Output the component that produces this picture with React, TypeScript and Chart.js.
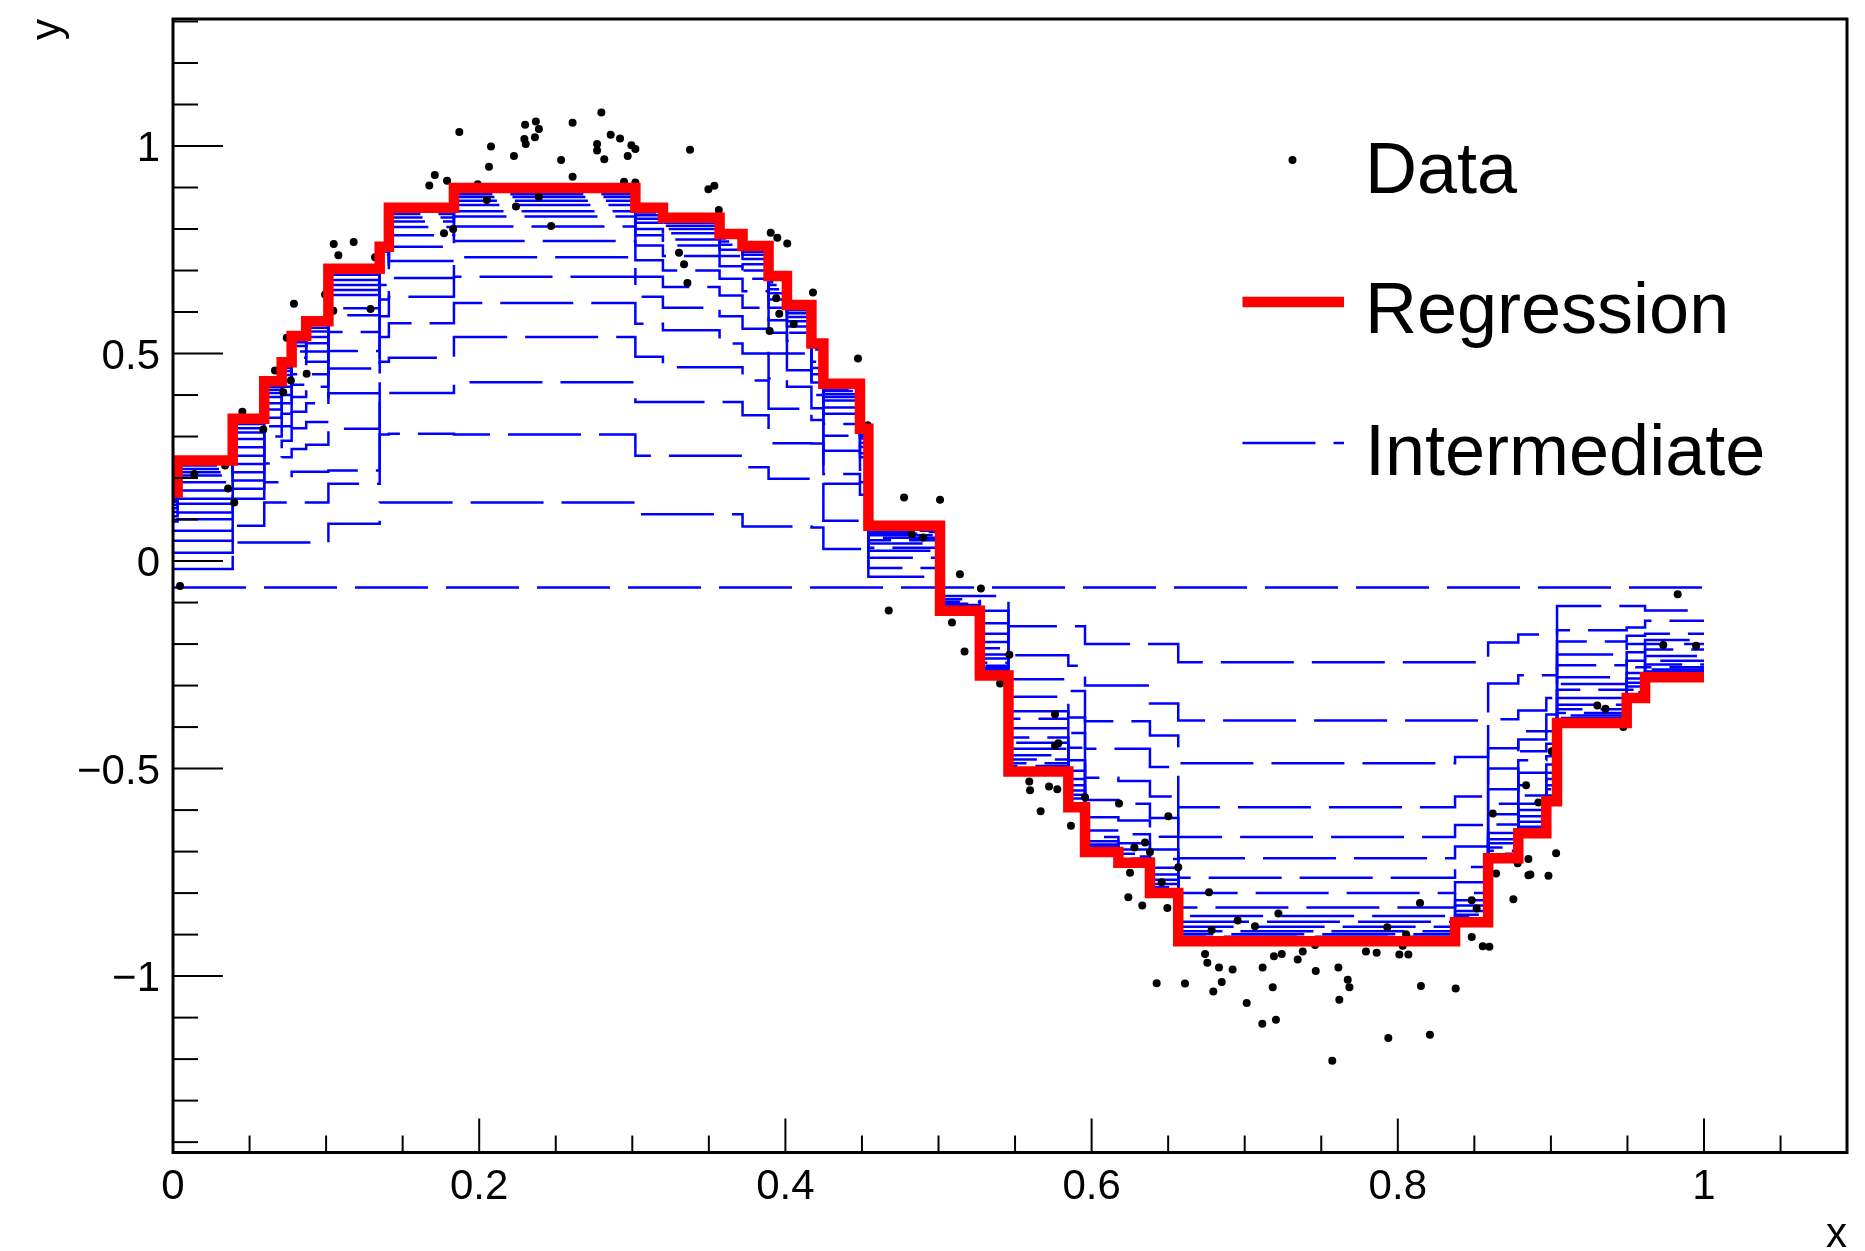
import React, { useEffect, useRef } from 'react';
import { Chart, registerables } from 'chart.js';

Chart.register(...registerables);

// ---------------- data ----------------
const dataX = [
  0.0046, 0.0139, 0.034, 0.036, 0.040, 0.0453, 0.059, 0.0666, 0.072, 0.077,
  0.0743, 0.079, 0.0873, 0.0993, 0.105, 0.108, 0.118, 0.1047, 0.129, 0.132,
  0.1674, 0.171, 0.179, 0.187, 0.2077, 0.2064, 0.199, 0.205, 0.177, 0.183,
  0.2227, 0.23, 0.237, 0.239, 0.2295, 0.2304, 0.2364, 0.224, 0.239, 0.247,
  0.2535, 0.261, 0.261, 0.2798, 0.277, 0.277, 0.2817, 0.2859, 0.292, 0.297,
  0.2994, 0.302, 0.2946, 0.302, 0.3377, 0.3497, 0.3536, 0.3565, 0.3305, 0.3338,
  0.336, 0.3904, 0.3947, 0.4012, 0.418, 0.394, 0.396, 0.4054, 0.3897,
  0.4474, 0.4537, 0.4775, 0.501, 0.514, 0.5277, 0.4675, 0.5088, 0.4825, 0.49, 0.517,
  0.5463, 0.5402, 0.5761, 0.5761, 0.5783, 0.5593, 0.5598, 0.5722, 0.5776, 0.5667,
  0.5865, 0.5957, 0.6179, 0.6501, 0.6279, 0.6349, 0.6381, 0.6251, 0.6458, 0.6566,
  0.624, 0.6331, 0.6495, 0.6767, 0.6425, 0.661, 0.6741, 0.6756, 0.6832, 0.6921,
  0.6795, 0.685, 0.6954, 0.6784, 0.7013, 0.7115, 0.7204, 0.7117, 0.7183, 0.7191,
  0.7242, 0.722, 0.7067, 0.7346,
  0.7379, 0.7459, 0.7464, 0.7612, 0.7673, 0.7684, 0.7618, 0.7572, 0.7792, 0.7862,
  0.7931, 0.801, 0.8069, 0.8032, 0.8054, 0.7938, 0.821, 0.8151, 0.8378, 0.8145,
  0.8483, 0.8555, 0.8598, 0.8483, 0.8515, 0.8755, 0.8642, 0.8853, 0.8853, 0.8783,
  0.862, 0.8838,
  0.9828, 0.9734, 0.9948, 0.9303, 0.9356, 0.9473, 0.9005, 0.8918, 0.9034, 0.8866, 0.8984,
];
const dataY = [
  -0.06, 0.21, 0.23, 0.175, 0.141, 0.36, 0.317, 0.459, 0.407, 0.435,
  0.538, 0.62, 0.451, 0.642, 0.764, 0.737, 0.769, 0.603, 0.607, 0.732,
  0.905, 0.93, 0.916, 1.034, 0.999, 0.95, 0.908, 0.87, 0.79, 0.80,
  0.976, 1.051, 1.059, 1.041, 1.017, 1.005, 1.021, 0.854, 0.877, 0.807,
  0.966, 1.056, 0.926, 1.081, 1.005, 0.989, 0.968, 1.027, 1.018, 0.976,
  1.002, 0.993, 0.914, 0.912, 0.991, 0.896, 0.904, 0.846, 0.743, 0.715,
  0.67, 0.791, 0.779, 0.765, 0.647, 0.633, 0.596, 0.571, 0.554,
  0.488, 0.327, 0.153, 0.148, -0.032, -0.066, -0.119, -0.148, 0.065, 0.057, -0.218,
  -0.226, -0.295, -0.369, -0.445, -0.439, -0.531, -0.552, -0.543, -0.55, -0.603,
  -0.638, -0.569, -0.584, -0.615, -0.69, -0.678, -0.701, -0.751, -0.774, -0.738,
  -0.81, -0.83, -0.836, -0.798, -1.017, -1.018, -0.947, -0.968, -0.979, -0.984,
  -1.037, -1.014, -0.866, -0.889, -1.065, -1.115, -1.105, -0.979, -1.027, -0.952,
  -0.947, -0.849, -0.88, -0.96,
  -0.941, -0.925, -0.988, -0.979, -1.009, -1.027, -1.057, -1.204, -0.941, -0.944,
  -0.882, -0.948, -0.948, -0.927, -0.899, -1.149, -1.141, -1.024, -1.03, -0.824,
  -0.906, -0.928, -0.929, -0.817, -0.837, -0.815, -0.753, -0.757, -0.718, -0.728,
  -0.608, -0.54,
  -0.08, -0.202, -0.204, -0.348, -0.356, -0.4, -0.458, -0.582, -0.704, -0.755, -0.758,
];

// step boundaries (start of each step) and end of the last step
const segmentStarts = [
  0, 0.003, 0.039, 0.0596, 0.071, 0.0775,
  0.087, 0.1015, 0.135, 0.141, 0.1835, 0.302,
  0.320, 0.357, 0.372, 0.389, 0.401, 0.417,
  0.4248, 0.4487, 0.4542, 0.501, 0.527, 0.5457,
  0.5848, 0.5957, 0.6175, 0.6381, 0.6566, 0.8374,
  0.859, 0.8787, 0.897, 0.904, 0.9495, 0.9615,
];
const segmentEnd = 1.0;

const regressionLevels = [
  0.165, 0.242, 0.343, 0.433, 0.479, 0.542,
  0.578, 0.704, 0.757, 0.851, 0.899, 0.851,
  0.827, 0.788, 0.759, 0.687, 0.617, 0.524,
  0.427, 0.319, 0.085, -0.12, -0.276, -0.507,
  -0.593, -0.701, -0.727, -0.80, -0.916, -0.87,
  -0.716, -0.656, -0.579, -0.39, -0.33, -0.28,
];

const stage00 = [
  -0.064, -0.064, -0.064, -0.064, -0.064, -0.064,
  -0.064, -0.064, -0.064, -0.064, -0.064, -0.064,
  -0.064, -0.064, -0.064, -0.064, -0.064, -0.064,
  -0.064, -0.064, -0.064, -0.064, -0.064, -0.064,
  -0.064, -0.064, -0.064, -0.064, -0.064, -0.064,
  -0.064, -0.064, -0.064, -0.064, -0.064, -0.064,
];
const stage01 = [
  -0.019, -0.019, 0.045, 0.045, 0.045, 0.045,
  0.045, 0.09, 0.141, 0.141, 0.141, 0.113,
  0.113, 0.113, 0.083, 0.083, 0.083, 0.081,
  0.029, 0.029, -0.038, -0.084, -0.084, -0.157,
  -0.157, -0.2, -0.2, -0.2, -0.244, -0.244,
  -0.196, -0.177, -0.177, -0.108, -0.108, -0.119,
];
const stage02 = [
  0.02, 0.02, 0.085, 0.141, 0.141, 0.141,
  0.141, 0.186, 0.305, 0.307, 0.305, 0.254,
  0.254, 0.254, 0.226, 0.198, 0.198, 0.198,
  0.097, 0.09, -0.017, -0.092, -0.12, -0.227,
  -0.252, -0.3, -0.3, -0.343, -0.384, -0.384,
  -0.295, -0.275, -0.275, -0.167, -0.16, -0.144,
];
const stage03 = [
  0.049, 0.049, 0.15, 0.19, 0.2, 0.215,
  0.215, 0.218, 0.4, 0.405, 0.431, 0.383,
  0.383, 0.383, 0.351, 0.284, 0.284, 0.283,
  0.186, 0.16, 0.008, -0.098, -0.15, -0.285,
  -0.313, -0.386, -0.386, -0.42, -0.487, -0.472,
  -0.381, -0.36, -0.33, -0.194, -0.18, -0.175,
];
const stage04 = [
  0.073, 0.073, 0.174, 0.235, 0.25, 0.27,
  0.28, 0.319, 0.48, 0.49, 0.54, 0.492,
  0.467, 0.467, 0.435, 0.367, 0.367, 0.34,
  0.21, 0.19, 0.025, -0.103, -0.175, -0.327,
  -0.377, -0.452, -0.452, -0.496, -0.593, -0.567,
  -0.451, -0.41, -0.37, -0.225, -0.2, -0.19,
];
const stage05 = [
  0.095, 0.101, 0.194, 0.27, 0.29, 0.32,
  0.335, 0.404, 0.54, 0.573, 0.622, 0.572,
  0.556, 0.524, 0.5, 0.44, 0.42, 0.368,
  0.266, 0.22, 0.032, -0.106, -0.195, -0.362,
  -0.414, -0.522, -0.53, -0.567, -0.665, -0.636,
  -0.5, -0.43, -0.41, -0.251, -0.22, -0.2,
];
const stage06 = [
  0.108, 0.117, 0.214, 0.3, 0.325, 0.36,
  0.38, 0.464, 0.59, 0.637, 0.685, 0.637,
  0.61, 0.59, 0.56, 0.5, 0.46, 0.4,
  0.302, 0.25, 0.042, -0.109, -0.21, -0.38,
  -0.45, -0.576, -0.585, -0.619, -0.716, -0.688,
  -0.55, -0.458, -0.44, -0.28, -0.24, -0.213,
];
const stage07 = [
  0.118, 0.138, 0.234, 0.325, 0.355, 0.395,
  0.42, 0.506, 0.63, 0.682, 0.732, 0.685,
  0.66, 0.64, 0.61, 0.55, 0.5, 0.43,
  0.33, 0.26, 0.05, -0.111, -0.225, -0.403,
  -0.48, -0.617, -0.625, -0.664, -0.763, -0.737,
  -0.585, -0.48, -0.47, -0.296, -0.256, -0.229,
];
const stage08 = [
  0.127, 0.15, 0.254, 0.345, 0.38, 0.425,
  0.45, 0.552, 0.665, 0.723, 0.771, 0.725,
  0.7, 0.68, 0.65, 0.58, 0.53, 0.45,
  0.355, 0.275, 0.056, -0.113, -0.235, -0.425,
  -0.505, -0.649, -0.658, -0.695, -0.8, -0.774,
  -0.61, -0.51, -0.49, -0.31, -0.27, -0.24,
];
const stage09 = [
  0.135, 0.17, 0.274, 0.365, 0.4, 0.45,
  0.48, 0.592, 0.69, 0.757, 0.806, 0.76,
  0.735, 0.71, 0.68, 0.61, 0.55, 0.465,
  0.37, 0.285, 0.062, -0.114, -0.245, -0.438,
  -0.525, -0.665, -0.68, -0.718, -0.835, -0.8,
  -0.635, -0.54, -0.51, -0.33, -0.283, -0.249,
];
const stage10 = [
  0.142, 0.19, 0.294, 0.38, 0.42, 0.47,
  0.505, 0.609, 0.71, 0.785, 0.83, 0.785,
  0.76, 0.735, 0.7, 0.63, 0.565, 0.48,
  0.387, 0.295, 0.066, -0.115, -0.252, -0.452,
  -0.54, -0.675, -0.695, -0.739, -0.855, -0.817,
  -0.655, -0.565, -0.525, -0.346, -0.293, -0.256,
];
const stage11 = [
  0.148, 0.206, 0.31, 0.395, 0.435, 0.49,
  0.525, 0.641, 0.72, 0.805, 0.843, 0.8,
  0.775, 0.75, 0.715, 0.645, 0.578, 0.49,
  0.395, 0.3, 0.07, -0.116, -0.258, -0.468,
  -0.553, -0.683, -0.705, -0.755, -0.869, -0.83,
  -0.67, -0.585, -0.54, -0.357, -0.302, -0.261,
];
const stage12 = [
  0.153, 0.214, 0.32, 0.405, 0.448, 0.505,
  0.54, 0.653, 0.73, 0.818, 0.858, 0.815,
  0.79, 0.762, 0.728, 0.655, 0.588, 0.5,
  0.402, 0.305, 0.073, -0.117, -0.263, -0.478,
  -0.563, -0.688, -0.712, -0.768, -0.881, -0.843,
  -0.68, -0.6, -0.55, -0.366, -0.31, -0.266,
];
const stage13 = [
  0.157, 0.222, 0.33, 0.413, 0.458, 0.518,
  0.553, 0.665, 0.738, 0.828, 0.868, 0.825,
  0.8, 0.77, 0.738, 0.665, 0.597, 0.505,
  0.41, 0.308, 0.076, -0.118, -0.267, -0.487,
  -0.572, -0.692, -0.717, -0.778, -0.892, -0.852,
  -0.69, -0.615, -0.558, -0.372, -0.316, -0.27,
];
const stage14 = [
  0.16, 0.23, 0.335, 0.42, 0.466, 0.527,
  0.562, 0.677, 0.745, 0.836, 0.877, 0.833,
  0.808, 0.777, 0.745, 0.672, 0.604, 0.51,
  0.415, 0.311, 0.078, -0.118, -0.27, -0.494,
  -0.579, -0.695, -0.72, -0.786, -0.899, -0.858,
  -0.698, -0.628, -0.565, -0.378, -0.321, -0.274,
];
const stage15 = [
  0.162, 0.235, 0.338, 0.425, 0.472, 0.534,
  0.57, 0.69, 0.75, 0.842, 0.884, 0.84,
  0.815, 0.782, 0.75, 0.678, 0.61, 0.516,
  0.42, 0.314, 0.08, -0.119, -0.272, -0.499,
  -0.585, -0.698, -0.723, -0.792, -0.905, -0.863,
  -0.705, -0.64, -0.57, -0.383, -0.325, -0.277,
];
const intermediateStages = [
  stage00, stage01, stage02, stage03, stage04, stage05, stage06, stage07,
  stage08, stage09, stage10, stage11, stage12, stage13, stage14, stage15,
];

// axes
const xRange = [0, 1.0934];
const yRange = [-1.425, 1.306];
const xMajorTicks = [0, 0.2, 0.4, 0.6, 0.8, 1.0];
const xTickLabels = ['0', '0.2', '0.4', '0.6', '0.8', '1'];
const xMinorTicks = [0.05, 0.1, 0.15, 0.25, 0.3, 0.35, 0.45, 0.5, 0.55, 0.65, 0.7, 0.75, 0.85, 0.9, 0.95, 1.05];
const yMajorTicks = [-1, -0.5, 0, 0.5, 1];
const yTickLabels = ['\u22121', '\u22120.5', '0', '0.5', '1'];
const yMinorTicks = [-1.4, -1.3, -1.2, -1.1, -0.9, -0.8, -0.7, -0.6, -0.4, -0.3, -0.2, -0.1,
  0.1, 0.2, 0.3, 0.4, 0.6, 0.7, 0.8, 0.9, 1.1, 1.2, 1.3];
const xTitle = 'x';
const yTitle = 'y';
const legendLabels = ['Data', 'Regression', 'Intermediate'];

// ---------------- helpers ----------------
function stepPoints(levels: number[]) {
  const pts: { x: number; y: number }[] = [];
  const n = Math.min(levels.length, segmentStarts.length);
  for (let i = 0; i < n; i++) {
    const x0 = segmentStarts[i];
    const x1 = i + 1 < n ? segmentStarts[i + 1] : segmentEnd;
    pts.push({ x: x0, y: levels[i] }, { x: x1, y: levels[i] });
  }
  return pts;
}

const FONT = '"Liberation Sans", Arial, Helvetica, sans-serif';
const BLUE = '#0000ff';
const RED = '#ff0000';
const DASH = [73, 18];

const rootAxesPlugin = {
  id: 'rootAxes',
  afterDraw(chart: any) {
    const ctx: CanvasRenderingContext2D = chart.ctx;
    const { left, right, top, bottom } = chart.chartArea;
    const xs = chart.scales.x;
    const ys = chart.scales.y;
    ctx.save();
    ctx.strokeStyle = '#000';
    ctx.fillStyle = '#000';
    ctx.setLineDash([]);
    ctx.lineWidth = 2;
    const seg = (x1: number, y1: number, x2: number, y2: number) => {
      ctx.beginPath();
      ctx.moveTo(x1, y1);
      ctx.lineTo(x2, y2);
      ctx.stroke();
    };
    yMajorTicks.forEach((v) => { const p = ys.getPixelForValue(v); seg(left, p, left + 50, p); });
    yMinorTicks.forEach((v) => { const p = ys.getPixelForValue(v); seg(left, p, left + 25, p); });
    xMajorTicks.forEach((v) => { const p = xs.getPixelForValue(v); seg(p, bottom, p, bottom - 34); });
    xMinorTicks.forEach((v) => { const p = xs.getPixelForValue(v); seg(p, bottom, p, bottom - 17); });
    ctx.lineWidth = 3;
    ctx.strokeRect(left, top, right - left, bottom - top);

    // tick labels
    ctx.font = `42px ${FONT}`;
    ctx.textBaseline = 'alphabetic';
    ctx.textAlign = 'right';
    yMajorTicks.forEach((v, i) => {
      const p = ys.getPixelForValue(v);
      ctx.fillText(yTickLabels[i], left - 13, p + 15);
    });
    ctx.textAlign = 'center';
    xMajorTicks.forEach((v, i) => {
      const p = xs.getPixelForValue(v);
      ctx.fillText(xTickLabels[i], p, bottom + 46.5);
    });
    // axis titles
    ctx.textAlign = 'right';
    ctx.fillText(xTitle, right, 1247);
    ctx.save();
    ctx.translate(60, top);
    ctx.rotate(-Math.PI / 2);
    ctx.textAlign = 'right';
    ctx.fillText(yTitle, 0, 0);
    ctx.restore();

    // legend
    ctx.font = `72px ${FONT}`;
    ctx.textAlign = 'left';
    const textX = 1365;
    ctx.beginPath();
    ctx.arc(1292.5, 160, 4, 0, Math.PI * 2);
    ctx.fill();
    ctx.fillText(legendLabels[0], textX, 193);
    ctx.strokeStyle = RED;
    ctx.lineWidth = 10.5;
    seg(1242.5, 302, 1344, 302);
    ctx.fillText(legendLabels[1], textX, 333);
    ctx.strokeStyle = BLUE;
    ctx.lineWidth = 2.5;
    ctx.setLineDash(DASH);
    seg(1242.5, 443, 1344, 443);
    ctx.setLineDash([]);
    ctx.fillText(legendLabels[2], textX, 475);
    ctx.restore();
  },
};

export default function App() {
  const canvasRef = useRef<HTMLCanvasElement | null>(null);

  useEffect(() => {
    const canvas = canvasRef.current;
    if (!canvas) return;
    const datasets: any[] = [];
    datasets.push({
      label: 'Regression',
      data: stepPoints(regressionLevels),
      borderColor: RED,
      backgroundColor: RED,
      borderWidth: 10.5,
      pointRadius: 0,
      fill: false,
      tension: 0,
      borderJoinStyle: 'miter',
      borderCapStyle: 'butt',
    });
    datasets.push({
      label: 'Data',
      data: dataX.map((x, i) => ({ x, y: dataY[i] })),
      showLine: false,
      pointRadius: 4,
      pointBorderWidth: 0,
      pointBackgroundColor: '#000',
      borderColor: '#000',
      backgroundColor: '#000',
    });
    intermediateStages.forEach((st, k) => {
      datasets.push({
        label: `Intermediate ${k}`,
        data: stepPoints(st),
        borderColor: BLUE,
        backgroundColor: BLUE,
        borderWidth: 2.5,
        borderDash: DASH,
        pointRadius: 0,
        fill: false,
        tension: 0,
        borderJoinStyle: 'miter',
      });
    });

    const chart = new Chart(canvas, {
      type: 'line',
      data: { datasets },
      options: {
        animation: false,
        responsive: false,
        devicePixelRatio: 1,
        layout: { padding: { left: 173, top: 19, right: 18, bottom: 98.5 } },
        plugins: { legend: { display: false }, tooltip: { enabled: false } },
        scales: {
          x: { type: 'linear', min: xRange[0], max: xRange[1], display: false },
          y: { type: 'linear', min: yRange[0], max: yRange[1], display: false },
        },
      },
      plugins: [rootAxesPlugin],
    } as any);
    return () => chart.destroy();
  }, []);

  return (
    <div style={{ position: 'fixed', left: 0, top: 0, width: 1865, height: 1251, background: '#fff' }}>
      <canvas ref={canvasRef} width={1865} height={1251} style={{ display: 'block' }} />
    </div>
  );
}
